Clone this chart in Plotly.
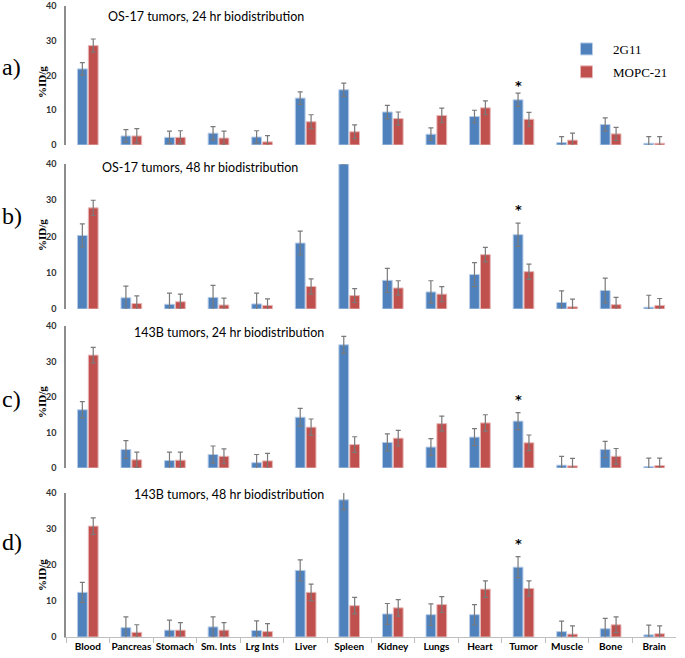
import plotly.graph_objects as go

categories = ["Blood", "Pancreas", "Stomach", "Sm. Ints", "Lrg Ints", "Liver", "Spleen",
              "Kidney", "Lungs", "Heart", "Tumor", "Muscle", "Bone", "Brain"]

panel_titles = ["OS-17 tumors, 24 hr biodistribution", "OS-17 tumors, 48 hr biodistribution",
                "143B tumors, 24 hr biodistribution", "143B tumors, 48 hr biodistribution"]
panel_letters = ["a)", "b)", "c)", "d)"]

g2g11_a = [21.9, 2.6, 2.2, 3.4, 2.3, 13.5, 15.9, 9.5, 3.1, 8.2, 13.0, 0.7, 5.9, 0.5]
g2g11_a_err = [1.8, 1.8, 1.8, 1.9, 1.8, 1.8, 1.9, 1.9, 1.8, 1.8, 1.9, 1.7, 1.9, 1.9]
mopc_a = [28.6, 2.6, 2.2, 2.0, 0.9, 6.7, 3.8, 7.6, 8.5, 10.7, 7.4, 1.4, 3.2, 0.5]
mopc_a_err = [1.9, 2.1, 1.9, 2.0, 1.8, 2.0, 2.0, 1.9, 2.1, 2.0, 2.0, 2.0, 1.9, 1.9]

g2g11_b = [20.3, 3.1, 1.3, 3.2, 1.4, 18.2, 40.0, 7.9, 4.7, 9.5, 20.5, 1.8, 5.1, 0.5]
g2g11_b_err = [3.2, 3.2, 3.1, 3.3, 3.0, 3.3, 0.0, 3.3, 3.1, 3.3, 3.2, 3.2, 3.4, 3.3]
mopc_b = [27.9, 1.5, 2.0, 1.1, 1.0, 6.2, 3.7, 5.8, 4.1, 15.0, 10.3, 0.6, 1.2, 1.0]
mopc_b_err = [2.1, 2.1, 2.1, 1.9, 1.8, 2.1, 1.9, 2.0, 2.1, 2.0, 2.1, 2.1, 2.0, 1.9]

g2g11_c = [16.4, 5.2, 2.1, 3.8, 1.5, 14.3, 34.7, 7.2, 5.9, 8.7, 13.2, 0.8, 5.2, 0.4]
g2g11_c_err = [2.3, 2.5, 2.4, 2.4, 2.3, 2.5, 2.4, 2.4, 2.4, 2.4, 2.4, 2.5, 2.3, 2.4]
mopc_c = [31.8, 2.3, 2.2, 3.3, 2.0, 11.5, 6.6, 8.4, 12.5, 12.7, 7.1, 0.6, 3.3, 0.7]
mopc_c_err = [2.2, 2.2, 2.3, 2.1, 2.1, 2.3, 2.2, 2.2, 2.1, 2.3, 2.2, 2.1, 2.2, 2.1]

g2g11_d = [12.4, 2.6, 1.9, 2.8, 1.8, 18.5, 38.1, 6.4, 6.2, 6.2, 19.4, 1.5, 2.3, 0.6]
g2g11_d_err = [2.8, 3.0, 2.8, 2.8, 2.7, 2.9, 2.8, 2.9, 3.0, 2.8, 2.9, 2.9, 2.9, 2.7]
mopc_d = [30.8, 1.3, 1.9, 1.9, 1.5, 12.4, 8.7, 8.1, 9.0, 13.3, 13.5, 0.8, 3.4, 0.9]
mopc_d_err = [2.3, 2.1, 2.1, 2.1, 2.2, 2.3, 2.3, 2.3, 2.2, 2.3, 2.1, 2.3, 2.2, 2.2]

star_heights = [17.2, 27.4, 19.4, 26.0]

series = [
    (g2g11_a, g2g11_a_err, mopc_a, mopc_a_err),
    (g2g11_b, g2g11_b_err, mopc_b, mopc_b_err),
    (g2g11_c, g2g11_c_err, mopc_c, mopc_c_err),
    (g2g11_d, g2g11_d_err, mopc_d, mopc_d_err),
]

W, H = 685, 658
BLUE = "#4F81BD"
RED = "#C0504D"

# pixel positions: (y of zero, y of 40)
panel_px = [(145, 6), (309, 164), (468, 326), (637, 493)]
title_px = [(206, 16), (200, 167), (229, 332), (229, 495)]
letter_py = [67, 216, 399, 542]
ytitle_py = [82, 235, 402, 575]

x0, x1 = 66 / W, 676 / W

fig = go.Figure()
ann = []
for i, (bv, be, rv, re_) in enumerate(series):
    n = "" if i == 0 else str(i + 1)
    xa, ya = "x" + n, "y" + n
    fig.add_trace(go.Bar(
        x=categories, y=bv, name="2G11", xaxis=xa, yaxis=ya,
        marker=dict(color=BLUE, line=dict(color="#b8cde8", width=1)),
        error_y=dict(type="data", array=be, symmetric=True, color="#7a7a7a", thickness=1.2, width=2.5),
        showlegend=(i == 0), legendgroup="a",
    ))
    fig.add_trace(go.Bar(
        x=categories, y=rv, name="MOPC-21", xaxis=xa, yaxis=ya,
        marker=dict(color=RED, line=dict(color="#e8b8b7", width=1)),
        error_y=dict(type="data", array=re_, symmetric=True, color="#7a7a7a", thickness=1.2, width=2.5),
        showlegend=(i == 0), legendgroup="b",
    ))
    zero_px, top_px = panel_px[i]
    dom = [1 - zero_px / H, 1 - top_px / H]
    last = (i == 3)
    fig.update_layout(**{
        "xaxis" + n: dict(
            domain=[x0, x1], anchor=ya, type="category",
            categoryorder="array", categoryarray=categories,
            showticklabels=last, showline=last, linecolor="#bfbfbf", linewidth=1.2,
            ticks="outside" if last else "", tickson="boundaries", ticklen=5,
            tickcolor="#bfbfbf", showgrid=False, zeroline=False, tickangle=0,
            automargin=False,
            tickfont=dict(family="Lato", size=10, color="#000000", weight="bold"),
        ),
        "yaxis" + n: dict(
            domain=dom, anchor=xa, range=[0, 40], tickvals=[0, 10, 20, 30, 40],
            showline=True, linecolor="#8c8c8c", linewidth=1.5, showgrid=False,
            zeroline=False, ticks="", ticklabelstandoff=6, automargin=False,
            ticklabeloverflow="allow",
            tickfont=dict(family="Lato", size=9, color="#333333", weight="bold"),
        ),
    })
    tx, ty = title_px[i]
    ann.append(dict(xref="paper", yref="paper", x=tx / W, y=1 - ty / H, text=panel_titles[i],
                    showarrow=False, xanchor="center", yanchor="middle",
                    font=dict(family="Lato", size=12.5, color="#000000")))
    ann.append(dict(xref="paper", yref="paper", x=0.0, y=1 - letter_py[i] / H, text=panel_letters[i],
                    showarrow=False, xanchor="left", yanchor="middle",
                    font=dict(family="Liberation Serif", size=24, color="#000000")))
    ann.append(dict(xref="paper", yref="paper", x=42 / W, y=1 - ytitle_py[i] / H, text="%ID/g",
                    showarrow=False, xanchor="center", yanchor="middle", textangle=-90,
                    font=dict(family="Liberation Serif", size=11, color="#000000", weight="bold")))
    ann.append(dict(xref=xa, yref=ya, x="Tumor", y=star_heights[i], text="*", xshift=-5,
                    showarrow=False, xanchor="center", yanchor="middle",
                    font=dict(family="DejaVu Sans", size=13, color="#000000", weight="bold")))

fig.update_layout(
    width=W, height=H,
    margin=dict(l=0, r=0, t=0, b=0, autoexpand=False),
    paper_bgcolor="white", plot_bgcolor="white",
    barmode="group", bargap=0.5, bargroupgap=0.1,
    annotations=ann,
    legend=dict(x=560 / W, y=1 - 34 / H, xanchor="left", yanchor="top",
                font=dict(family="Liberation Serif", size=13, color="#000000"),
                bgcolor="rgba(0,0,0,0)", tracegroupgap=3, itemwidth=43),
)

fig.write_html("out.html", config={"displayModeBar": False},
               post_script="document.body.style.margin='0';document.body.style.overflow='hidden';")
